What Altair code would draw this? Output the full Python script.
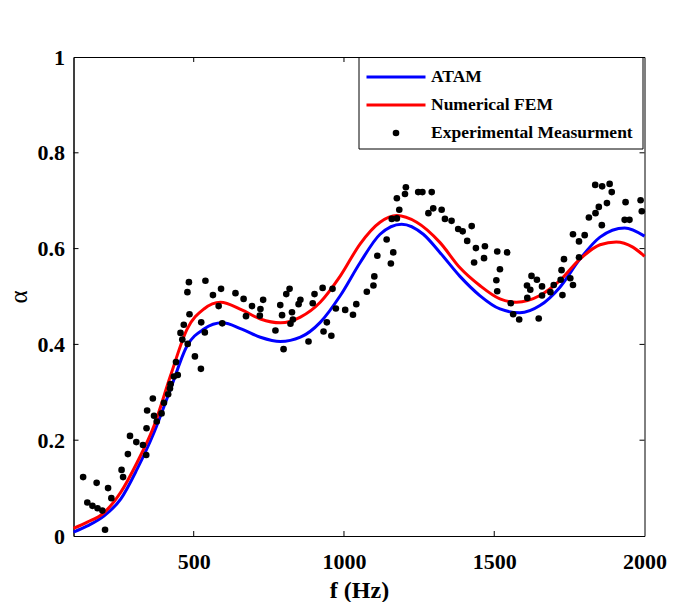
import altair as alt
import pandas as pd

# ---- data ----
ATAM_F = [100, 146, 202, 257, 312, 368, 423, 478, 534, 595, 660, 722, 788, 855, 921, 988,
          1054, 1120, 1192, 1264, 1319, 1386, 1452, 1519, 1585, 1652, 1718, 1785, 1852, 1934, 2000]
ATAM_A = [0.008, 0.021, 0.042, 0.077, 0.140, 0.216, 0.307, 0.397, 0.432, 0.445, 0.432, 0.415,
          0.406, 0.415, 0.446, 0.502, 0.571, 0.630, 0.651, 0.630, 0.592, 0.542, 0.502, 0.474,
          0.466, 0.481, 0.519, 0.578, 0.624, 0.643, 0.626]

FEM_F = [100, 146, 202, 257, 312, 368, 423, 478, 534, 589, 660, 722, 789, 855, 921, 988,
         1054, 1120, 1176, 1242, 1319, 1386, 1452, 1519, 1574, 1652, 1718, 1785, 1852, 1906, 1961, 2000]
FEM_A = [0.016, 0.029, 0.049, 0.091, 0.154, 0.230, 0.335, 0.432, 0.474, 0.488, 0.472, 0.453,
         0.445, 0.457, 0.488, 0.543, 0.610, 0.655, 0.669, 0.655, 0.613, 0.560, 0.523, 0.495,
         0.488, 0.502, 0.533, 0.578, 0.608, 0.614, 0.603, 0.584]

EXP_F = [132, 146, 163, 177, 180, 196, 205, 215, 226, 260, 265, 281, 288, 309, 331, 342, 343, 345,
         364, 368, 377, 393, 401, 415, 421, 423, 434, 447, 441, 456, 462, 467, 480, 486, 504, 524,
         525, 537, 583, 595,
         484, 479, 539, 564, 591, 639, 666, 694, 674, 720, 731, 722, 772, 788,
         794, 799, 808, 819, 822, 827, 830, 849, 855, 882, 896, 902, 929, 932, 943, 958, 962, 973,
         1004, 1030, 1041, 1076, 1098, 1101, 1111, 1142, 1156, 1164, 1159, 1176, 1184, 1176, 1203,
         1206, 1247, 1261, 1292, 1281, 1297, 1325, 1336, 1358, 1380,
         1395, 1425, 1410, 1439, 1469, 1433, 1466, 1510, 1543, 1519, 1507, 1510, 1555, 1563, 1583,
         1609, 1624, 1620, 1610, 1642, 1659, 1659, 1648, 1687, 1698, 1721, 1724, 1727, 1732, 1753,
         1762, 1762, 1782, 1801, 1782, 1815, 1837, 1848, 1858, 1875, 1836, 1859, 1884, 1891, 1937,
         1934, 1950, 1987, 1991]
EXP_A = [0.123, 0.070, 0.063, 0.111, 0.058, 0.053, 0.013, 0.100, 0.079, 0.138, 0.123, 0.171, 0.209,
         0.196, 0.190, 0.169, 0.225, 0.262, 0.287, 0.251, 0.239, 0.256, 0.278, 0.296, 0.308, 0.317,
         0.333, 0.336, 0.363, 0.424, 0.410, 0.441, 0.401, 0.463, 0.375, 0.349, 0.446, 0.425, 0.480,
         0.444,
         0.530, 0.509, 0.533, 0.503, 0.516, 0.507, 0.495, 0.480, 0.459, 0.460, 0.493, 0.474, 0.429,
         0.482,
         0.461, 0.390, 0.505, 0.516, 0.443, 0.467, 0.452, 0.484, 0.493, 0.406, 0.486, 0.505, 0.518,
         0.427, 0.446, 0.418, 0.516, 0.475, 0.472, 0.462, 0.484, 0.510, 0.523, 0.542, 0.585, 0.619,
         0.569, 0.592, 0.662, 0.663, 0.681, 0.705, 0.714, 0.728, 0.718, 0.718, 0.718, 0.674, 0.684,
         0.681, 0.662, 0.658, 0.641,
         0.636, 0.647, 0.616, 0.601, 0.605, 0.571, 0.580, 0.594, 0.592, 0.557, 0.534, 0.511, 0.486,
         0.463, 0.452, 0.523, 0.543, 0.514, 0.497, 0.535, 0.521, 0.502, 0.454, 0.509, 0.524, 0.535,
         0.555, 0.503, 0.578, 0.538, 0.524, 0.630, 0.615, 0.628, 0.582, 0.665, 0.674, 0.687, 0.649,
         0.695, 0.733, 0.730, 0.735, 0.718, 0.697, 0.660, 0.660, 0.701, 0.678]

X_TICKS = [500, 1000, 1500, 2000]
Y_TICKS = [0, 0.2, 0.4, 0.6, 0.8, 1]
SERIES = ["ATAM", "Numerical FEM", "Experimental Measurment"]
COLORS = ["#0000ff", "#ff0000", "#000000"]

W, H = 571, 479
FONT = "Liberation Serif"

atam = pd.DataFrame({"f": ATAM_F, "a": ATAM_A})
fem = pd.DataFrame({"f": FEM_F, "a": FEM_A})
exp = pd.DataFrame({"f": EXP_F, "a": EXP_A})
xt = pd.DataFrame({"f": X_TICKS[:-1]})
yt = pd.DataFrame({"a": Y_TICKS[1:-1]})

xs = alt.Scale(domain=[100, 2000], nice=False, zero=False)
ys = alt.Scale(domain=[0, 1], nice=False)

X = alt.X("f:Q", scale=xs, axis=alt.Axis(values=X_TICKS, format="d", title="f (Hz)",
                                         labelPadding=15, titlePadding=6))
Y = alt.Y("a:Q", scale=ys, axis=alt.Axis(values=Y_TICKS, format=".1~f", title="α",
                                         labelPadding=9, titlePadding=6,
                                         titleFontWeight="normal", titleFontSize=25))

l_atam = alt.Chart(atam).mark_line(color=COLORS[0], strokeWidth=3, interpolate="monotone").encode(x=X, y=Y)
l_fem = alt.Chart(fem).mark_line(color=COLORS[1], strokeWidth=3, interpolate="monotone").encode(x=X, y=Y)
pts = alt.Chart(exp).mark_circle(color=COLORS[2], size=44, opacity=1).encode(x=X, y=Y)

tk = dict(color="black", strokeWidth=1)
t_bot = alt.Chart(xt).mark_rule(**tk).encode(x=X, y=alt.value(H), y2=alt.value(H - 5))
t_top = alt.Chart(xt).mark_rule(**tk).encode(x=X, y=alt.value(0), y2=alt.value(5))
t_left = alt.Chart(yt).mark_rule(**tk).encode(y=Y, x=alt.value(0), x2=alt.value(5))
t_right = alt.Chart(yt).mark_rule(**tk).encode(y=Y, x=alt.value(W), x2=alt.value(W - 5))

one = alt.Data(values=[{}])
leg_box = alt.Chart(one).mark_rect(fill="white", stroke="black", strokeWidth=1).encode(
    x=alt.value(285.5), x2=alt.value(569.5), y=alt.value(0.5), y2=alt.value(92))
leg_l1 = alt.Chart(one).mark_rule(color=COLORS[0], strokeWidth=3).encode(
    x=alt.value(293), x2=alt.value(352), y=alt.value(20))
leg_l2 = alt.Chart(one).mark_rule(color=COLORS[1], strokeWidth=3).encode(
    x=alt.value(293), x2=alt.value(352), y=alt.value(48))
leg_p = alt.Chart(one).mark_circle(color=COLORS[2], size=44, opacity=1).encode(
    x=alt.value(322.5), y=alt.value(76))
txt = dict(font=FONT, fontWeight="bold", fontSize=17.5, align="left", baseline="middle", color="black")
leg_t1 = alt.Chart(one).mark_text(**txt).encode(x=alt.value(357.5), y=alt.value(20), text=alt.value(SERIES[0]))
leg_t2 = alt.Chart(one).mark_text(**txt).encode(x=alt.value(357.5), y=alt.value(48), text=alt.value(SERIES[1]))
leg_t3 = alt.Chart(one).mark_text(**txt).encode(x=alt.value(357.5), y=alt.value(76), text=alt.value(SERIES[2]))

chart = alt.layer(
    l_atam, l_fem, pts, t_bot, t_top, t_left, t_right,
    leg_box, leg_l1, leg_l2, leg_p, leg_t1, leg_t2, leg_t3,
).properties(
    width=W, height=H,
    background="white",
    autosize=alt.AutoSizeParams(type="none"),
    padding={"left": 65.5, "top": 49, "right": 23, "bottom": 66},
).configure_view(
    stroke="black", strokeWidth=1, fill="white"
).configure_axis(
    grid=False, ticks=False, domain=True, domainColor="black", domainWidth=1,
    labelFont=FONT, labelFontWeight="bold", labelFontSize=22, labelColor="black",
    titleFont=FONT, titleFontWeight="bold", titleFontSize=24, titleColor="black",
    labelFlush=False, labelOverlap=False,
)

chart.save("out.html", embed_options={"renderer": "svg", "actions": False})
